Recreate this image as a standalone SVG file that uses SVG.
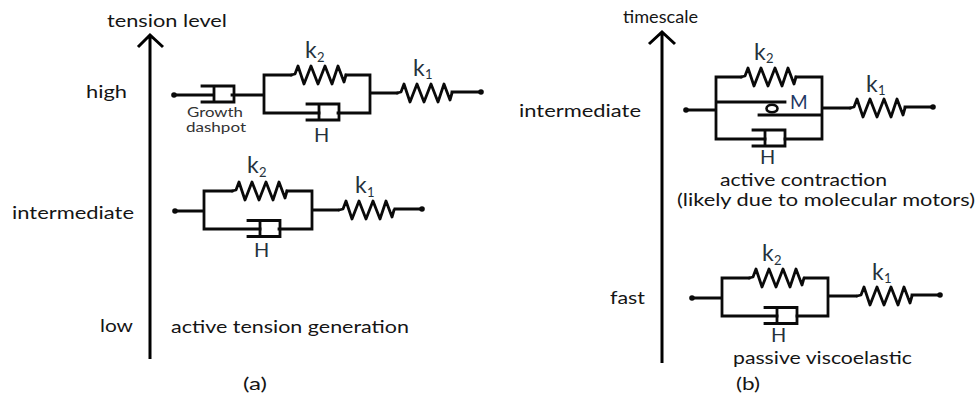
<svg xmlns="http://www.w3.org/2000/svg" xmlns:xlink="http://www.w3.org/1999/xlink" width="977" height="398" viewBox="0 0 977 398">
<style>
.w{fill:none;stroke:#0a0a0a;stroke-width:2.8;stroke-linecap:square;stroke-linejoin:miter}
.s{fill:none;stroke:#0a0a0a;stroke-width:2.8;stroke-linejoin:round;stroke-linecap:round}
.a{fill:none;stroke:#000;stroke-width:3}
.d{fill:#0a0a0a}
text{font-family:Lato,"Open Sans","Liberation Sans",sans-serif;fill:#151515}
.t{font-size:18px}
.g{font-size:12.5px;fill:#333}
.k{font-size:23px;fill:#25323c}
.n{font-size:13px;fill:#25323c}
.h{font-size:20px;fill:#25323c}
</style>
<defs>
<path id="spring" d="M0,0 L4,-1 L7,-9 L13,9 L20,-9 L27,9 L34,-9 L41,9 L47,-9 L53,7 L55,0"/>
<path id="dash" d="M-12,-8 H20 V8 H-12 M0,-5 V5"/>
</defs>
<g id="axes">
<path class="a" d="M150,359 V35 M138,47 L150,35 L163,47"/>
<path class="a" d="M662,363 V32 M649,44 L662,32 L675,44"/>
</g>
<g id="axis-labels">
<text class="t" x="107" y="27" textLength="120" lengthAdjust="spacingAndGlyphs">tension level</text>
<text class="t" x="86" y="98" textLength="41" lengthAdjust="spacingAndGlyphs">high</text>
<text class="t" x="12" y="219" textLength="122" lengthAdjust="spacingAndGlyphs">intermediate</text>
<text class="t" x="100" y="332" textLength="33" lengthAdjust="spacingAndGlyphs">low</text>
<text class="t" x="171" y="333" textLength="238" lengthAdjust="spacingAndGlyphs">active tension generation</text>
<text class="t" x="243" y="390" textLength="24" lengthAdjust="spacingAndGlyphs">(a)</text>
<text class="t" x="623" y="23" textLength="75" lengthAdjust="spacingAndGlyphs">timescale</text>
<text class="t" x="519" y="117" textLength="122" lengthAdjust="spacingAndGlyphs">intermediate</text>
<text class="t" x="610" y="304" textLength="35" lengthAdjust="spacingAndGlyphs">fast</text>
<text class="t" x="736" y="390" textLength="24" lengthAdjust="spacingAndGlyphs">(b)</text>
</g>
<g id="model-high">
<circle class="d" cx="174" cy="95" r="2.8"/>
<path class="w" d="M174,95 H213 M232,95 H264 M264,113 V75 H291 M346,75 H370 V113 H338 M264,113 H319 M370,93 H397 M452,92 H481"/>
<use class="w" href="#dash" xlink:href="#dash" transform="translate(214,94)"/>
<use class="w" href="#dash" xlink:href="#dash" transform="translate(319,112)"/>
<use class="s" href="#spring" xlink:href="#spring" transform="translate(291,75)"/>
<use class="s" href="#spring" xlink:href="#spring" transform="translate(397,93)"/>
<circle class="d" cx="481" cy="92" r="2.8"/>
<text class="k" x="305" y="58">k</text><text class="n" x="317" y="62">2</text>
<text class="k" x="413" y="76">k</text><text class="n" x="425" y="79">1</text>
<text class="h" x="314" y="142">H</text>
<text class="g" x="187" y="117" textLength="56" lengthAdjust="spacingAndGlyphs">Growth</text>
<text class="g" x="186" y="132" textLength="60" lengthAdjust="spacingAndGlyphs">dashpot</text>
</g>
<g id="model-intermediate-a">
<circle class="d" cx="175" cy="211" r="2.8"/>
<path class="w" d="M175,211 H204 M204,229 V191 H232 M287,191 H312 V229 H279 M204,229 H260 M312,210 H338 M395,209 H422"/>
<use class="w" href="#dash" xlink:href="#dash" transform="translate(260,228.500)"/>
<use class="s" href="#spring" xlink:href="#spring" transform="translate(232,191)"/>
<use class="s" href="#spring" xlink:href="#spring" transform="translate(339,210)"/>
<circle class="d" cx="422" cy="209" r="2.8"/>
<text class="k" x="247" y="173">k</text><text class="n" x="259" y="177">2</text>
<text class="k" x="355" y="193">k</text><text class="n" x="367" y="197">1</text>
<text class="h" x="254" y="257">H</text>
</g>
<g id="model-intermediate-b">
<circle class="d" cx="686" cy="110" r="2.8"/>
<path class="w" d="M686,110 H716 M716,139 V77 H741 M796,77 H822 V139 H785 M716,139 H765 M716,102 H785 M759,115 H822 M822,108 H850 M905,107 H933"/>
<ellipse cx="772" cy="108.500" rx="5.500" ry="3.800" fill="none" stroke="#0a0a0a" stroke-width="2.600"/>
<use class="w" href="#dash" xlink:href="#dash" transform="translate(765,138)"/>
<use class="s" href="#spring" xlink:href="#spring" transform="translate(741,77)"/>
<use class="s" href="#spring" xlink:href="#spring" transform="translate(850,108)"/>
<circle class="d" cx="933" cy="107" r="2.8"/>
<text class="k" x="754" y="60">k</text><text class="n" x="766" y="63">2</text>
<text class="k" x="866" y="92">k</text><text class="n" x="878" y="95">1</text>
<text x="790" y="109" style="font-size:19px;fill:#1f3864">M</text>
<text class="h" x="760" y="164">H</text>
<text class="t" x="720" y="186" textLength="167" lengthAdjust="spacingAndGlyphs">active contraction</text>
<text class="t" x="677" y="206" textLength="298" lengthAdjust="spacingAndGlyphs">(likely due to molecular motors)</text>
</g>
<g id="model-fast">
<circle class="d" cx="692" cy="298" r="2.8"/>
<path class="w" d="M692,298 H722 M722,316 V278 H749 M805,278 H828 V316 H797 M722,316 H777 M828,296 H856 M912,295 H940"/>
<use class="w" href="#dash" xlink:href="#dash" transform="translate(777,315.500)"/>
<use class="s" href="#spring" xlink:href="#spring" transform="translate(749,278)"/>
<use class="s" href="#spring" xlink:href="#spring" transform="translate(857,296)"/>
<circle class="d" cx="940" cy="295" r="2.8"/>
<text class="k" x="762" y="261">k</text><text class="n" x="774" y="265">2</text>
<text class="k" x="872" y="280">k</text><text class="n" x="884" y="283">1</text>
<text class="h" x="771" y="342">H</text>
<text class="t" x="733" y="364" textLength="179" lengthAdjust="spacingAndGlyphs">passive viscoelastic</text>
</g>
</svg>
